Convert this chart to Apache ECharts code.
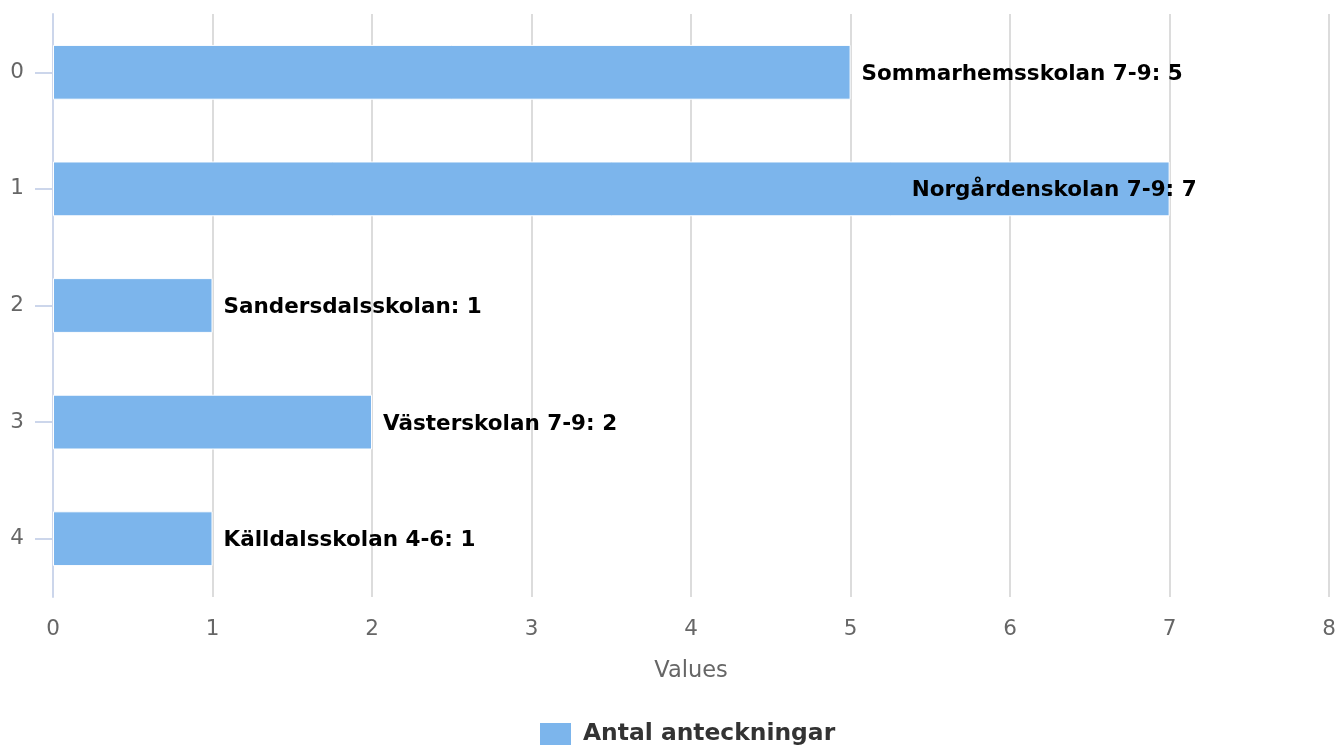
<!DOCTYPE html>
<html><head><meta charset="utf-8">
<script src="https://cdn.jsdelivr.net/npm/echarts@6/dist/echarts.min.js"></script>
<style>html,body{margin:0;padding:0;background:#fff}#c{width:1339px;height:749px}</style>
</head><body><div id="c"></div>
<script>
const categories = ['0','1','2','3','4'];
const schools = ['Sommarhemsskolan 7-9','Norgårdenskolan 7-9','Sandersdalsskolan','Västerskolan 7-9','Källdalsskolan 4-6'];
const values = [5,7,1,2,1];
const xTicks = [0,1,2,3,4,5,6,7,8];
const seriesName = 'Antal anteckningar';
const FONT = 'DejaVu Sans';

const chart = echarts.init(document.getElementById('c'), null, {renderer:'canvas'});
const data = values.map((v,i)=>{
  const d = {value:v, school:schools[i]};
  if (v === Math.max(...values)) d.label = {offset:[-269,2]};
  return d;
});
chart.setOption({
  animation:false,
  textStyle:{fontFamily:FONT},
  grid:{left:53,right:9,top:14,bottom:152,containLabel:false},
  xAxis:{type:'value',min:xTicks[0],max:xTicks[xTicks.length-1],interval:1,
    name:'Values',nameLocation:'middle',nameGap:63,
    nameTextStyle:{color:'#666',fontSize:22.5,fontFamily:FONT},
    axisLine:{show:false},axisTick:{show:false},
    axisLabel:{color:'#666',fontSize:21.5,margin:21,fontFamily:FONT},
    splitLine:{show:true,lineStyle:{color:'#dcdcdc',width:2}}},
  yAxis:{type:'category',data:categories,inverse:true,
    axisLine:{show:true,lineStyle:{color:'#ccd6eb',width:2}},
    axisTick:{show:true,length:18,alignWithLabel:true,lineStyle:{color:'#ccd6eb',width:2}},
    axisLabel:{color:'#666',fontSize:21.5,margin:29,fontFamily:FONT},
    splitLine:{show:false}},
  legend:{top:721,left:538,padding:0,itemWidth:33,itemHeight:24,itemGap:10,
    icon:'rect',
    textStyle:{color:'#333',fontSize:23.4,fontWeight:'bold',fontFamily:FONT,padding:[0,0,0,6]},
    data:[seriesName]},
  series:[{type:'bar',name:seriesName,data:data,barWidth:'47%',
    itemStyle:{color:'#7cb5ec',borderColor:'#fff',borderWidth:1},
    label:{show:true,position:'right',distance:11,offset:[0,2],color:'#000',fontSize:21.5,fontWeight:'bold',fontFamily:FONT,
      formatter:p=>p.data.school+': '+p.value}}]
});
</script></body></html>
